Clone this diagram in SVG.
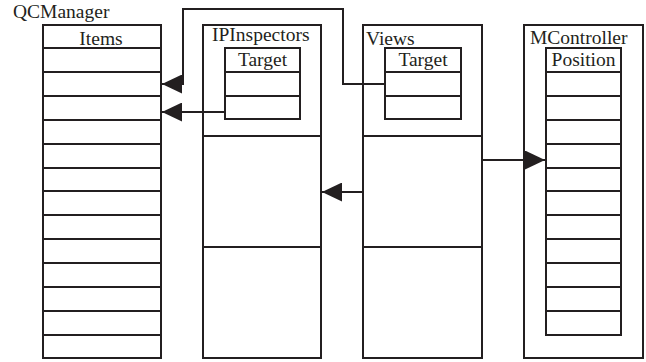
<svg xmlns="http://www.w3.org/2000/svg" width="646" height="362" viewBox="0 0 646 362">
  <style>
    .box { fill: #fff; stroke: #231f20; stroke-width: 2; }
    .row { stroke: #231f20; stroke-width: 2; fill: none; }
    .lbl { font-family: "Liberation Serif", "Times New Roman", serif; font-size: 19.5px; fill: #231f20; }
    .mid { text-anchor: middle; }
    .wire { fill: none; stroke: #231f20; stroke-width: 2; }
  </style>
  <defs>
    <marker id="arrow" markerUnits="userSpaceOnUse" markerWidth="21" markerHeight="19" refX="20" refY="9.5" orient="auto">
      <path d="M0,0 L20,9.5 L0,19 z" fill="#231f20"/>
    </marker>
  </defs>
  <rect width="646" height="362" fill="#fff"/>

  <!-- QCManager with its Items list -->
  <g id="qcmanager">
    <text class="lbl" x="13" y="18">QCManager</text>
    <rect class="box" x="43" y="25" width="118" height="333"/>
    <text class="lbl mid" x="101" y="45">Items</text>
    <path class="row" d="M43,48H161 M43,72H161 M43,96H161 M43,120H161 M43,144H161 M43,168H161 M43,191H161 M43,215H161 M43,239H161 M43,263H161 M43,287H161 M43,311H161 M43,335H161"/>
  </g>

  <!-- IPInspectors -->
  <g id="ipinspectors">
    <rect class="box" x="203" y="25" width="118" height="333"/>
    <text class="lbl" x="212" y="41">IPInspectors</text>
    <path class="row" d="M203,136H321 M203,247H321"/>
    <rect class="box" x="225" y="48" width="75" height="71"/>
    <text class="lbl mid" x="262.5" y="66">Target</text>
    <path class="row" d="M225,72H300 M225,96H300"/>
  </g>

  <!-- Views -->
  <g id="views">
    <rect class="box" x="363" y="25" width="119" height="333"/>
    <text class="lbl" x="366" y="45">Views</text>
    <path class="row" d="M363,136H482 M363,247H482"/>
    <rect class="box" x="385" y="48" width="76" height="71"/>
    <text class="lbl mid" x="423" y="66">Target</text>
    <path class="row" d="M385,72H461 M385,96H461"/>
  </g>

  <!-- MController with its Position list -->
  <g id="mcontroller">
    <rect class="box" x="524" y="25" width="119" height="333"/>
    <text class="lbl" x="530" y="44">MController</text>
    <rect class="box" x="546" y="48" width="75" height="287"/>
    <text class="lbl mid" x="583.5" y="66">Position</text>
    <path class="row" d="M546,72H621 M546,96H621 M546,120H621 M546,144H621 M546,168H621 M546,191H621 M546,215H621 M546,239H621 M546,263H621 M546,287H621 M546,311H621"/>
  </g>

  <!-- connectors -->
  <g id="connectors">
    <path class="wire" d="M385,84H343V9H183V84H162" marker-end="url(#arrow)"/>
    <path class="wire" d="M225,112H162" marker-end="url(#arrow)"/>
    <path class="wire" d="M363,192H322" marker-end="url(#arrow)"/>
    <path class="wire" d="M482,160H545" marker-end="url(#arrow)"/>
  </g>
</svg>
